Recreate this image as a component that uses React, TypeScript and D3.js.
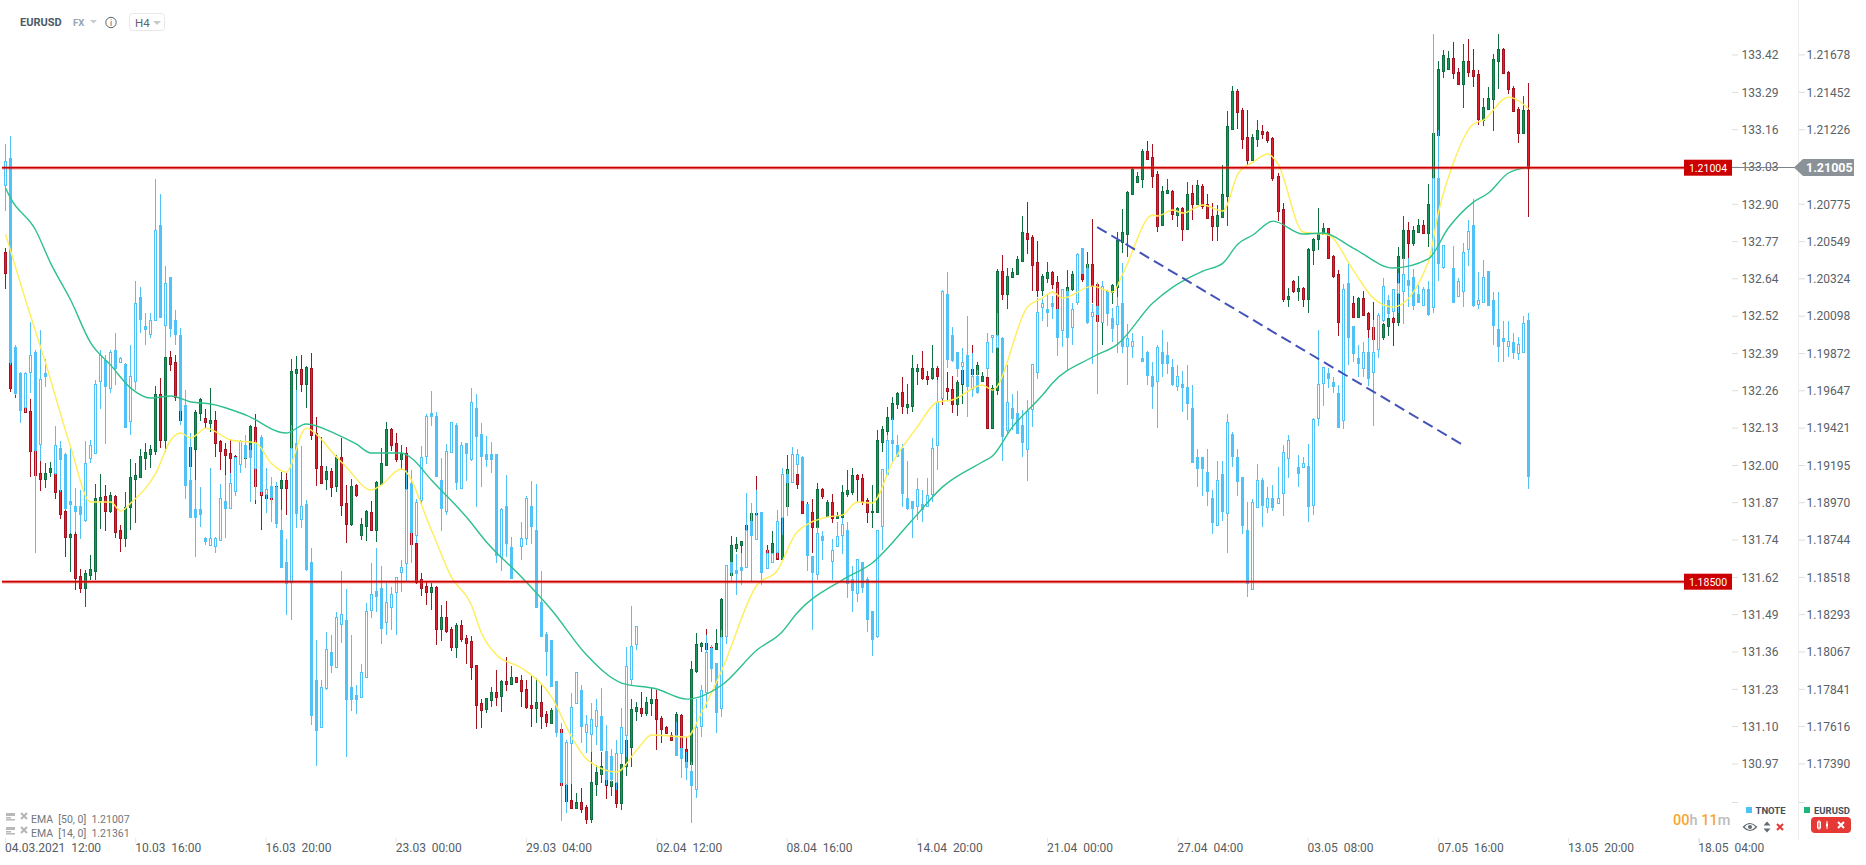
import React from 'react';
import * as d3 from 'd3';

// H4 bars, [open, high, low, close]. EURUSD in points (1/100000), TNOTE in 1/1000.
const eurBars = [
[120494,120518,120271,120367],[120367,120397,119647,119672],[119647,119720,119611,119690],[119659,119672,119563,119569],[119569,119581,119520,119526],
[119532,119605,119133,119290],[119296,119302,119145,119145],[119157,119230,119048,119121],[119121,119218,119067,119157],[119163,119224,119133,119187],
[119157,119163,119000,119042],[119054,119139,118879,118909],[118927,118933,118649,118770],[118770,118843,118558,118788],[118788,118806,118450,118522],
[118534,118577,118431,118462],[118462,118571,118347,118552],[118540,118661,118510,118577],[118565,119091,118510,119006],[118994,119151,118819,119012],
[119018,119085,118807,118927],[118927,119042,118915,119024],[119018,119024,118764,118800],[118813,118843,118680,118764],[118764,119042,118710,118952],
[118952,119242,118813,119133],[119121,119218,118855,119145],[119133,119302,119127,119260],[119248,119339,119175,119284],[119272,119327,119187,119302],
[119290,119684,119266,119635],[119635,119732,119309,119357],[119357,119871,119284,119859],[119859,119895,119774,119816],[119828,119871,119593,119617],
[119617,119647,119466,119478],[119478,119508,119175,119200],[119200,119357,119115,119315],[119302,119538,119115,119526],[119520,119611,119472,119605],
[119490,119544,119429,119466],[119460,119671,119405,119478],[119478,119532,119254,119339],[119351,119357,119175,119290],[119302,119339,119145,119266],
[119278,119363,119145,119248],[119260,119266,119242,119251],[119260,119272,119242,119248],[119248,119266,119242,119260],[119254,119448,119248,119442],
[119436,119514,118970,119079],[119079,119115,118813,119024],[119042,119054,118994,119006],[119012,119085,118988,119000],[119000,119085,118994,119079],
[119067,119163,118933,119115],[119115,119157,118903,119067],[119309,119847,119175,119774],[119762,119865,119647,119786],[119786,119871,119647,119695],
[119695,119804,119550,119798],[119792,119883,119357,119387],[119399,119496,119079,119187],[119200,119375,119091,119097],[119121,119200,119054,119169],
[119169,119187,119012,119073],[119079,119266,119042,119254],[119254,119369,118897,118964],[118976,119085,118734,118849],[118849,119121,118837,119079],
[119085,119091,119012,119024],[118782,118885,118752,118849],[118837,118933,118746,118927],[118921,118988,118807,118813],[118813,119109,118740,119103],
[119091,119309,119091,119218],[119206,119466,119200,119423],[119423,119429,119290,119327],[119339,119399,119224,119242],[119242,119327,119175,119278],
[119278,119315,119054,119060],[119060,119085,118613,118728],[118734,118752,118486,118498],[118516,118552,118413,118462],[118474,118498,118359,118437],
[118437,118492,118329,118468],[118468,118474,118117,118214],[118214,118359,118141,118287],[118287,118383,118190,118202],[118214,118226,118081,118105],
[118105,118250,118038,118238],[118238,118268,118135,118153],[118159,118177,118002,118129],[118141,118171,117905,117984],[117996,117996,117609,117754],
[117766,117790,117615,117724],[117730,117796,117706,117796],[117784,117863,117742,117833],[117833,117966,117748,117803],[117809,117905,117712,117899],
[117899,118044,117839,117881],[117881,117990,117875,117923],[117923,117923,117893,117893],[117905,117935,117742,117839],[117851,117905,117730,117742],
[117754,117929,117621,117736],[117736,117917,117645,117772],[117772,117875,117609,117688],[117700,117718,117621,117651],[117645,117736,117639,117724],
[117724,117742,117597,117609],[117609,117621,117258,117270],[117276,117300,117119,117174],[117180,117282,117125,117131],[117131,117222,117125,117168],
[117168,117252,117101,117125],[117137,117149,117034,117065],[117065,117470,117040,117288],[117276,117391,117204,117349],[117337,117470,117282,117385],
[117349,117385,117186,117270],[117264,117331,117204,117294],[117288,117300,117131,117162],[117162,117421,117119,117397],[117385,117542,117325,117542],
[117500,117790,117379,117730],[117718,117772,117657,117742],[117736,117833,117682,117706],[117706,117802,117688,117772],[117766,117857,117688,117790],
[117790,117845,117482,117670],[117676,117688,117524,117609],[117621,117627,117585,117585],[117573,117591,117542,117542],[117542,117712,117536,117700],
[117694,117700,117434,117494],[117488,117561,117403,117403],[117397,118020,117385,117972],[117960,118190,117948,118123],[118111,118135,118075,118129],
[118129,118214,118087,118093],[118105,118117,118087,118093],[118093,118214,118087,118129],[118165,118401,118147,118395],[118395,118571,118389,118547],
[118540,118776,118528,118722],[118704,118770,118680,118728],[118722,118746,118649,118746],[118728,118849,118722,118843],[118843,118976,118813,118915],
[118915,119139,118897,118897],[118897,118897,118686,118692],[118692,118722,118661,118674],[118619,118807,118619,118734],[118680,118680,118631,118637],
[118637,118903,118631,118891],[118957,119266,118897,119181],[119145,119236,119139,119206],[119151,119175,119060,119091],[119091,119115,118915,118915],
[118813,118982,118807,118909],[118921,119000,118674,118831],[118831,119097,118813,119060],[119060,119067,119000,119018],[118897,118994,118891,118982],
[118982,119030,118855,118885],[118885,118921,118879,118897],[118891,119085,118885,119042],[119030,119175,119012,119054],[119042,119187,119024,119145],
[119145,119151,118982,119121],[119127,119151,118964,118982],[118994,119006,118855,118921],[118921,119085,118825,118927],[118921,119417,118915,119357],
[119345,119442,119284,119423],[119411,119556,119387,119496],[119484,119617,119417,119581],[119575,119647,119544,119641],[119647,119738,119514,119562],
[119556,119695,119514,119575],[119562,119871,119526,119792],[119774,119816,119690,119792],[119792,119895,119720,119732],[119744,119774,119690,119726],
[119732,119931,119720,119792],[119792,119804,119690,119744],[119744,119756,119569,119611],[119671,119768,119599,119653],[119665,119744,119520,119575],
[119575,119720,119502,119708],[119695,119804,119575,119780],[119768,119810,119762,119786],[119786,119931,119744,119756],[119756,119828,119750,119810],
[119714,119768,119708,119744],[119738,119750,119423,119429],[119429,119690,119423,119671],[119659,120391,119629,120379],[120379,120476,120204,120240],
[120240,120397,120149,120349],[120343,120397,120337,120373],[120361,120470,120355,120452],[120440,120712,120433,120615],[120609,120796,120482,120573],
[120585,120597,120258,120415],[120433,120560,120222,120264],[120264,120361,120228,120349],[120337,120433,120306,120373],[120373,120379,120270,120300],
[120312,120349,120143,120149],[120149,120264,120143,120252],[120234,120385,120228,120282],[120270,120379,120258,120361],[120355,120445,120349,120433],
[120433,120458,120312,120331],[120397,120494,120385,120421],[120421,120693,120185,120288],[120300,120312,120071,120077],[120071,120173,119931,120125],
[120125,120264,120119,120258],[120252,120300,120179,120294],[120282,120615,120222,120566],[120554,120754,120488,120615],[120603,120863,120464,120857],
[120845,121008,120839,120996],[120917,120978,120911,120954],[120935,121117,120881,121105],[121105,121165,121050,121056],[121068,121147,120881,120954],
[120966,120984,120615,120651],[120657,120893,120651,120863],[120851,120935,120845,120869],[120863,120869,120687,120724],[120718,120766,120645,120760],
[120760,120766,120560,120633],[120633,120917,120627,120845],[120851,120899,120687,120784],[120784,120929,120778,120899],[120893,120905,120754,120772],
[120784,120845,120694,120700],[120712,120790,120560,120651],[120651,120778,120560,120718],[120706,121020,120700,120845],[120833,121347,120651,121256],
[121238,121498,121232,121468],[121468,121480,121238,121341],[121353,121365,121117,121177],[121189,121353,121020,121050],[121050,121208,121044,121189],
[121177,121292,121129,121232],[121226,121262,121177,121208],[121220,121226,121153,121171],[121183,121189,120923,120941],[120953,120972,120681,120742],
[120754,120790,120192,120210],[120210,120276,120161,120228],[120318,120324,120246,120258],[120258,120349,120198,120276],[120276,120282,120161,120210],
[120210,120518,120125,120512],[120506,120578,120415,120572],[120572,120760,120506,120609],[120603,120669,120597,120639],[120639,120639,120452,120458],
[120470,120476,120337,120349],[120361,120385,119986,120071],[120071,120143,120065,120113],[120113,120204,120107,120185],[120185,120228,120095,120101],
[120101,120222,120095,120216],[120216,120258,120107,120113],[120125,120131,119968,120028],[120040,120191,119962,119968],[119968,120022,119962,119980],
[119980,120065,119962,120058],[120046,120113,119986,120095],[120095,120101,119925,120071],[120071,120524,120046,120470],[120458,120712,120452,120627],
[120627,120675,120458,120548],[120548,120651,120530,120627],[120615,120693,120609,120657],[120657,120687,120603,120609],[120609,120905,120524,120784],
[120784,121232,120778,121214],[121202,121649,121196,121601],[121589,121716,121546,121685],[121601,121710,121595,121667],[121667,121764,121540,121577],
[121583,121607,121504,121510],[121510,121752,121365,121649],[121649,121782,121552,121583],[121595,121722,121492,121558],[121570,121595,121262,121298],
[121292,121425,121256,121371],[121359,121492,121353,121425],[121419,121691,121226,121661],[121649,121812,121480,121722],[121722,121728,121570,121577],
[121583,121589,121449,121480],[121486,121498,121341,121347],[121359,121371,121153,121214],[121214,121437,121208,121353],[121353,121516,120706,121005],
];

// null = no TNOTE bar at that position
const tnoteBars = [
[132975,133117,132885,133058],[133068,133145,132353,132363],[132415,132422,132249,132256],[132325,132329,132152,132197],[132208,132329,132190,132325],
[132329,132502,132256,132387],[132398,132405,131703,132059],[132079,132474,132021,132304],[132325,132374,132277,132315],null,
[131979,132142,131972,132076],[132066,132090,131914,132028],[132045,132048,131851,131858],[131882,132066,131772,131872],[131865,131928,131775,131848],
[131865,131921,131752,131838],[131817,132090,131810,132014],[132031,132093,132014,132076],[132048,132301,132048,132287],[132297,132405,132201,132387],
[132370,132387,132080,132280],[132273,132405,132256,132398],[132405,132464,132284,132342],[132363,132381,132360,132377],[132356,132360,132138,132138],
[132159,132422,132111,132315],[132298,132643,132266,132567],[132588,132622,132464,132512],[132488,132533,132422,132478],[132460,132533,132446,132508],
[132508,132996,132508,132820],[132837,132944,132519,132519],[132491,132695,132381,132636],[132657,132657,132450,132481],[132508,132543,132422,132460],
[132457,132481,132146,132197],[132215,132267,131890,131938],[131955,132118,131824,131828],[131855,131955,131689,131828],[131855,131931,131793,131838],
[131755,131759,131731,131745],[131731,131998,131727,131755],[131727,131759,131703,131755],[131748,131942,131748,131893],[131882,131973,131755,131858],
[131858,131980,131858,131945],[131917,132035,131900,132035],[132011,132094,131979,132090],[132076,132111,131996,132035],[132059,132076,131879,132035],
[131997,132094,131886,132083],[132104,132111,131903,131917],[131907,131997,131841,131924],[131935,131966,131810,131897],[131931,131949,131789,131807],
[131782,131851,131651,131655],[131672,131752,131489,131599],[131603,132146,131472,132066],[132083,132266,131789,131841],[131821,132073,131789,131865],
[131872,131886,131641,131648],[131672,131720,131108,131143],[131264,131402,130967,131091],[131101,131264,131098,131239],[131236,131430,131229,131371],
[131361,131419,131288,131316],[131309,131499,131305,131482],[131458,131641,131392,131492],[131472,131579,130998,131198],[131240,131419,131157,131198],
[131212,131247,131146,131198],[131205,131319,131205,131292],[131274,131530,131274,131503],[131506,131669,131478,131561],[131572,131720,131499,131555],
[131582,131658,131388,131444],[131465,131599,131420,131534],[131516,131586,131437,131561],[131568,131620,131420,131620],[131637,131679,131568,131655],
[131669,131990,131603,131924],[131945,131990,131669,131775],[131765,131889,131738,131880],[131886,132073,131869,132035],[132038,132184,132011,132176],
[132187,132263,132142,132176],[132176,132190,131966,131969],[131955,132031,131779,131859],[131848,132080,131834,132056],[132052,132156,132049,132156],
[132146,132152,131921,131948],[131928,132087,131928,132076],[132083,132083,131952,132049],[132028,132273,132021,132225],[132204,132253,131862,132107],
[132114,132152,131931,132038],[132045,132107,132000,132028],[132045,132087,131979,132028],[132045,132045,131669,131696],[131689,131859,131641,131855],
[131865,131973,131689,131738],[131724,131758,131613,131617],null,[131727,131810,131678,131755],[131755,131900,131731,131893],
[131865,131952,131734,131796],[131782,131942,131516,131516],[131533,131641,131412,131416],[131423,131430,131278,131365],[131402,131402,131243,131243],
[131261,131261,131067,131084],[131081,131115,130777,130911],[130904,131057,130804,131050],[131046,131219,130904,131171],[131185,131292,131185,131292],
[131230,131247,131046,131105],[131084,131143,131012,131112],[131077,131185,131015,131129],[131105,131198,131039,131160],[131139,131236,131019,131022],
[131019,131108,130901,130922],[131001,131025,130911,130922],[130911,131057,130884,131012],[131012,131167,130974,131102],[131074,131378,130998,131313],
[131268,131520,131247,131382],[131388,131451,131368,131451],null,null,null,
null,null,null,null,[131074,131119,131001,131005],
[131029,131067,130925,130994],[130980,131015,130918,130963],[130949,130980,130770,130901],[130887,131198,130856,131102],[131105,131247,131067,131229],
[131223,131420,131167,131361],[131375,131385,131257,131306],[131323,131323,131081,131153],[131167,131437,131136,131413],[131416,131662,131389,131662],
[131672,131672,131603,131638],[131645,131700,131558,131634],[131655,131703,131593,131645],[131655,131910,131655,131782],[131814,131876,131603,131765],
[131751,131921,131748,131834],[131845,131845,131593,131638],[131651,131713,131651,131703],[131672,131703,131669,131703],[131706,131852,131686,131814],
[131827,131997,131765,131976],[131976,131990,131830,131948],[131948,132069,131948,132045],[132011,132062,131976,132045],[132035,132038,131886,131886],
[131872,131872,131641,131696],[131693,131693,131437,131638],[131631,131793,131610,131772],[131762,131779,131679,131748],null,
[131675,131751,131610,131713],[131727,131810,131724,131762],[131765,131824,131699,131803],[131782,131810,131548,131600],[131613,131658,131499,131575],
[131565,131682,131534,131682],[131672,131672,131565,131586],[131613,131620,131430,131475],[131503,131503,131347,131406],[131416,131782,131409,131782],
[131796,131993,131713,131993],[131976,132111,131976,132094],[132094,132170,132018,132083],[132076,132111,132035,132038],[132066,132080,131862,131911],
[131893,132021,131851,131858],[131882,131882,131755,131858],[131865,131962,131817,131924],[131872,131921,131810,131855],[131865,131962,131865,131903],
[131907,132101,131879,132066],[132076,132301,131990,132225],[132239,132612,132239,132609],[132598,132674,132343,132374],[132457,132484,132363,132370],
[132398,132398,132311,132343],[132349,132412,132287,132363],[132387,132522,132173,132280],[132270,132394,132242,132315],[132315,132336,132253,132260],
null,[132342,132464,132311,132433],[132450,132457,132394,132457],[132415,132533,132415,132457],[132446,132450,132021,132107],
[132128,132353,132118,132225],[132204,132253,132128,132170],[132187,132263,132118,132118],[132146,132197,132035,132087],[132062,132232,131952,132194],
[132201,132356,132139,132356],[132329,132585,132305,132536],[132553,132581,132505,132567],[132546,132595,132485,132536],[132567,132591,132512,132557],
[132546,132619,132384,132450],[132474,132616,132415,132616],[132609,132616,132332,132450],[132484,132567,132422,132546],[132571,132740,132560,132737],
[132757,132757,132667,132671],[132688,132702,132495,132502],[132522,132564,132356,132536],[132557,132640,132253,132529],[132502,132643,132502,132626],
[132605,132612,132488,132533],[132515,132550,132432,132481],[132495,132588,132394,132557],[132567,132705,132394,132419],[132419,132495,132284,132446],
[132419,132464,132377,132436],null,[132377,132453,132363,132367],[132398,132401,132284,132318],[132315,132363,132201,132280],
[132298,132422,132135,132415],[132398,132474,132311,132360],[132388,132432,132322,132360],[132346,132374,132280,132287],[132280,132353,132263,132315],
[132287,132332,132190,132277],[132277,132353,132163,132222],[132204,132284,132018,132018],[132035,132062,131931,131997],[132035,132035,131900,131997],
[131983,132062,131865,131917],[131893,131921,131769,131810],[131800,132021,131800,131955],[131976,132021,131814,131848],[131841,132184,131703,132156],
[132114,132121,132000,132038],[132035,132062,131900,131952],[131966,131966,131769,131800],[131783,131879,131551,131600],[131579,131890,131579,131879],
[131862,132011,131859,131955],[131955,131962,131793,131869],[131862,131931,131841,131893],[131893,131938,131848,131862],[131876,132000,131876,131893],
[131910,132076,131831,132052],[132031,132111,131962,132094],null,[131999,132042,131931,131979],[132000,132035,131997,132014],
[132004,132080,131810,131865],[131869,132170,131835,132166],[132170,132474,132142,132287],[132291,132346,132211,132346],[132325,132343,132273,132308],
[132294,132311,132256,132280],[132256,132284,132138,132138],[132163,132633,132132,132616],[132636,132705,132353,132450],[132488,132488,132363,132395],
[132377,132422,132311,132360],[132342,132432,132311,132398],[132398,132446,132280,132308],[132329,132508,132142,132398],[132408,132533,132377,132526],
[132508,132654,132502,132626],[132578,132595,132515,132533],[132539,132616,132519,132616],[132602,132671,132533,132636],[132609,132723,132495,132667],
[132647,132723,132553,132629],[132657,132685,132543,132560],[132598,132629,132571,132571],[132560,132622,132560,132616],[132616,132643,132522,132529],
[132553,133497,132533,133000],[133000,133165,132643,132705],[132691,132768,132685,132768],null,[132688,132764,132567,132571],
[132592,132654,132592,132643],[132609,132775,132553,132743],[132754,132854,132695,132816],[132837,132927,132553,132560],[132564,132674,132546,132578],
[132571,132716,132571,132657],[132678,132678,132560,132560],[132578,132605,132422,132491],[132477,132605,132363,132419],[132446,132505,132363,132436],
[132419,132505,132381,132436],[132432,132464,132374,132398],[132395,132450,132370,132426],[132398,132522,132394,132498],[132508,132533,131924,131969],
];

// [bar, value in points], read at the bends of each average
const ema50 = [[0,120881],[1,120820],[6,120627],[9,120427],[13,120204],[17,119944],[21,119810],[25,119671],[29,119611],[33,119623],[37,119587],[41,119575],[48,119508],[56,119399],[60,119454],[66,119393],[70,119333],[73,119278],[79,119278],[81,119248],[85,119115],[92,118891],[96,118740],[103,118528],[109,118329],[116,118057],[123,117887],[130,117851],[136,117790],[143,117875],[150,118087],[155,118196],[158,118311],[167,118510],[173,118613],[181,118873],[187,119072],[195,119224],[197,119260],[201,119436],[207,119629],[209,119702],[217,119859],[222,119937],[229,120185],[233,120282],[239,120379],[243,120427],[246,120542],[249,120597],[253,120681],[259,120603],[263,120609],[269,120518],[277,120397],[284,120452],[288,120639],[293,120796],[296,120851],[300,120972],[304,121007]];
const ema14 = [[0,120603],[4,120204],[8,119823],[13,119315],[17,118982],[21,118982],[23,118927],[25,118976],[30,119157],[33,119357],[35,119399],[37,119369],[40,119429],[45,119357],[50,119339],[53,119218],[56,119163],[60,119429],[63,119363],[65,119290],[68,119194],[73,119054],[75,119085],[79,119182],[85,118813],[89,118528],[93,118359],[95,118190],[98,118057],[103,117978],[109,117803],[113,117561],[116,117427],[122,117349],[126,117482],[129,117573],[136,117561],[139,117712],[143,117966],[150,118480],[154,118565],[158,118800],[164,118891],[167,118903],[170,118982],[173,118976],[177,119218],[182,119436],[186,119587],[189,119599],[195,119690],[197,119659],[204,120161],[207,120216],[209,120252],[211,120216],[217,120288],[221,120252],[223,120361],[229,120718],[230,120712],[233,120748],[235,120730],[239,120778],[243,120742],[246,120966],[249,121038],[252,121087],[254,121026],[259,120615],[264,120597],[269,120385],[273,120216],[277,120161],[284,120433],[286,120730],[289,121032],[293,121268],[295,121292],[300,121431],[304,121361]];

const trendLine = [[218,120645],[291,119327]];
const levels = [121004, 118500];
const lastPrice = '1.21005';

const eurTicks = [121678,121452,121226,121000,120775,120549,120324,120098,119872,119647,119421,119195,118970,118744,118518,118293,118067,117841,117616,117390];
const tnoteLabels = ['133.42','133.29','133.16','133.03','132.90','132.77','132.64','132.52','132.39','132.26','132.13','132.00','131.87','131.74','131.62','131.49','131.36','131.23','131.10','130.97'];
const timeLabels = ['04.03.2021  12:00','10.03  16:00','16.03  20:00','23.03  00:00','29.03  04:00','02.04  12:00','08.04  16:00','14.04  20:00','21.04  00:00','27.04  04:00','03.05  08:00','07.05  16:00','13.05  20:00','18.05  04:00'];
const barsPerLabel = 26;

const WIDTH = 1866;
const HEIGHT = 865;
const FONT = 'Roboto, sans-serif';
const BLUE = '#4fc3f7';

const xBar = d3.scaleLinear().domain([0, 304]).range([5, 1528]);
const yEur = d3.scaleLinear().domain([121004, 118500]).range([167.7, 581.7]);
const yTnote = d3.scaleLinear().domain([133420, 130970]).range([56.3, 765]);

const emaPath = d3.line()
  .x(d => xBar(d[0]) + 0.5)
  .y(d => yEur(d[1]))
  .curve(d3.curveMonotoneX);

const px = v => Math.round(v);

const EurCandle = ({ bar, i }) => {
  const [o, h, l, c] = bar;
  const x = px(xBar(i));
  const up = c >= o;
  const edge = up ? '#0e6e40' : '#a3121e';
  const fill = up ? '#19975c' : '#e4202f';
  const top = px(yEur(Math.max(o, c)));
  const bottom = px(yEur(Math.min(o, c)));
  return (
    <g>
      <rect x={x} y={px(yEur(h))} width={1} height={Math.max(px(yEur(l)) - px(yEur(h)), 1)} fill={edge} />
      <rect x={x - 0.5} y={top + 0.5} width={2} height={Math.max(bottom - top, 1)} fill={fill} stroke={edge} />
    </g>
  );
};

const TnoteCandle = ({ bar, i }) => {
  const [o, h, l, c] = bar;
  const x = px(xBar(i));
  const top = px(yTnote(Math.max(o, c)));
  const bottom = px(yTnote(Math.min(o, c)));
  return (
    <g>
      <rect x={x} y={px(yTnote(h))} width={1} height={Math.max(px(yTnote(l)) - px(yTnote(h)), 1)} fill={BLUE} />
      <rect x={x - 0.5} y={top + 0.5} width={2} height={Math.max(bottom - top, 1)} fill={c > o ? '#fff' : BLUE} stroke={BLUE} />
    </g>
  );
};

const App = () => {
  return (
    <svg
      width={WIDTH}
      height={HEIGHT}
      viewBox={`0 0 ${WIDTH} ${HEIGHT}`}
      style={{ position: 'absolute', left: 0, top: 0, background: '#fff', display: 'block', fontFamily: FONT }}
    >
      {/* axis frame */}
      <line x1={1798.5} x2={1798.5} y1={0} y2={840} stroke="#ececec" />
      <line x1={1699.5} x2={1699.5} y1={838} y2={843} stroke="#e2e2e2" />

      {/* candles */}
      <g shapeRendering="crispEdges">
        {eurBars.map((b, i) => <EurCandle key={i} bar={b} i={i} />)}
        {tnoteBars.map((b, i) => (b ? <TnoteCandle key={i} bar={b} i={i} /> : null))}
      </g>

      {/* moving averages */}
      <path d={emaPath(ema14)} fill="none" stroke="#ffee58" strokeWidth={1.4} />
      <path d={emaPath(ema50)} fill="none" stroke="#2dc08d" strokeWidth={1.4} />

      {/* drawn trend line */}
      <line
        x1={xBar(trendLine[0][0])} y1={yEur(trendLine[0][1])}
        x2={xBar(trendLine[1][0])} y2={yEur(trendLine[1][1])}
        stroke="#4353b8" strokeWidth={2} strokeDasharray="11 5.5"
      />

      {/* horizontal levels */}
      {levels.map(v => (
        <g key={v}>
          <line x1={2} x2={1684} y1={yEur(v)} y2={yEur(v)} stroke="#e53935" strokeOpacity={0.45} strokeWidth={3.4} />
          <line x1={2} x2={1684} y1={yEur(v)} y2={yEur(v)} stroke="#c80000" strokeWidth={1.6} />
          <rect x={1684} y={yEur(v) - 8} width={48} height={16} fill="#cc0000" />
          <text x={1708} y={yEur(v) + 3.8} textAnchor="middle" fontSize={10.5} fill="#fff">{(v / 100000).toFixed(5)}</text>
        </g>
      ))}

      {/* price axes */}
      {eurTicks.map((v, i) => {
        const y = yEur(v) - 1.3;
        return (
          <g key={v}>
            <line x1={1732} x2={1738} y1={y} y2={y} stroke="#dddddd" />
            <line x1={1799} x2={1805} y1={y} y2={y} stroke="#dddddd" />
            <text x={1741.5} y={y + 4.3} fontSize={12} fill="#596168">{tnoteLabels[i]}</text>
            {i === 3 ? null : <text x={1806.5} y={y + 4.3} fontSize={12} fill="#596168">{(v / 100000).toFixed(5)}</text>}
          </g>
        );
      })}
      <line x1={1732} x2={1795} y1={167.5} y2={167.5} stroke="#7d8488" />
      <path d="M1794 167.5 L1803 159 H1854 V176 H1803 Z" fill="#8a9297" />
      <text x={1806} y={172} fontSize={12.5} fontWeight={700} fill="#fff">{lastPrice}</text>

      {/* time axis */}
      {timeLabels.map((t, i) => {
        const x = xBar(i * barsPerLabel);
        return (
          <g key={t}>
            <line x1={x + 0.5} x2={x + 0.5} y1={838} y2={843} stroke="#e6e6e6" />
            <text x={x} y={851.5} fontSize={12} fill="#555c63" style={{ whiteSpace: 'pre' }}>{t}</text>
          </g>
        );
      })}

      {/* header */}
      <text x={20} y={26} fontSize={11} fontWeight={700} fill="#4d5a63">EURUSD</text>
      <text x={73} y={26} fontSize={9.5} fontWeight={700} fill="#98a4ae">FX</text>
      <path d="M90 20 H97 L93.5 23.5 Z" fill="#c6cacd" />
      <circle cx={111} cy={22.5} r={5.2} fill="none" stroke="#59646e" />
      <text x={111} y={26} textAnchor="middle" fontSize={8.5} fill="#59646e">i</text>
      <rect x={129.5} y={13.5} width={35} height={17} rx={3} fill="#fff" stroke="#e8e8e8" />
      <text x={135} y={26.5} fontSize={11.5} fill="#5a6570">H4</text>
      <path d="M153 21 H161 L157 25 Z" fill="#c6cacd" />

      {/* indicator legend */}
      {[['EMA  [50, 0]  1.21007', 819], ['EMA  [14, 0]  1.21361', 833]].map(([label, y]) => (
        <g key={label}>
          <rect x={6} y={y - 6} width={9} height={3} fill="#b8b8b8" />
          <rect x={6} y={y - 2} width={5} height={1.5} fill="#b8b8b8" />
          <rect x={6} y={y} width={9} height={1.5} fill="#b8b8b8" />
          <path d={`M21 ${y - 6} L27 ${y} M27 ${y - 6} L21 ${y}`} stroke="#b5b5b5" strokeWidth={2} />
          <text x={31} y={y + 3.5} fontSize={10.5} fill="#70777c" style={{ whiteSpace: 'pre' }}>{label}</text>
        </g>
      ))}

      {/* countdown */}
      <text x={1673} y={825} fontSize={14.5} fontWeight={500} fill="#bcbcbc">
        <tspan fill="#f8a530">00</tspan>h <tspan fill="#f8a530">11</tspan>m
      </text>

      {/* instrument legend */}
      <line x1={1732} x2={1738} y1={802.5} y2={802.5} stroke="#dddddd" />
      <line x1={1799} x2={1805} y1={802.5} y2={802.5} stroke="#dddddd" />
      <rect x={1746} y={807} width={6} height={6} fill={BLUE} />
      <text x={1755.5} y={813.5} fontSize={9.5} fontWeight={700} fill="#454f57">TNOTE</text>
      <rect x={1804} y={807} width={6} height={6} fill="#1fb57c" />
      <text x={1814} y={813.5} fontSize={9.5} fontWeight={700} fill="#454f57">EURUSD</text>
      <path d="M1743.5 827 Q1750 820 1756.5 827 Q1750 834 1743.5 827 Z" fill="none" stroke="#5f6a72" strokeWidth={1.2} />
      <circle cx={1750} cy={827} r={2} fill="#5f6a72" />
      <path d="M1763.5 825.5 L1767 821.5 L1770.5 825.5 Z M1763.5 828.5 L1767 832.5 L1770.5 828.5 Z" fill="#5f6a72" />
      <path d="M1777 824 L1783 830 M1783 824 L1777 830" stroke="#e53935" strokeWidth={2} />
      <rect x={1811} y={817} width={40} height={16} rx={4} fill="#e53935" />
      <path d="M1819 820 V830 M1827 821 V829" stroke="#fff" />
      <rect x={1817.5} y={822} width={3} height={6} fill="none" stroke="#fff" />
      <rect x={1826} y={823.5} width={2} height={3} fill="#fff" />
      <path d="M1838 822 L1844 828 M1844 822 L1838 828" stroke="#fff" strokeWidth={2} />
    </svg>
  );
};

export default App;
